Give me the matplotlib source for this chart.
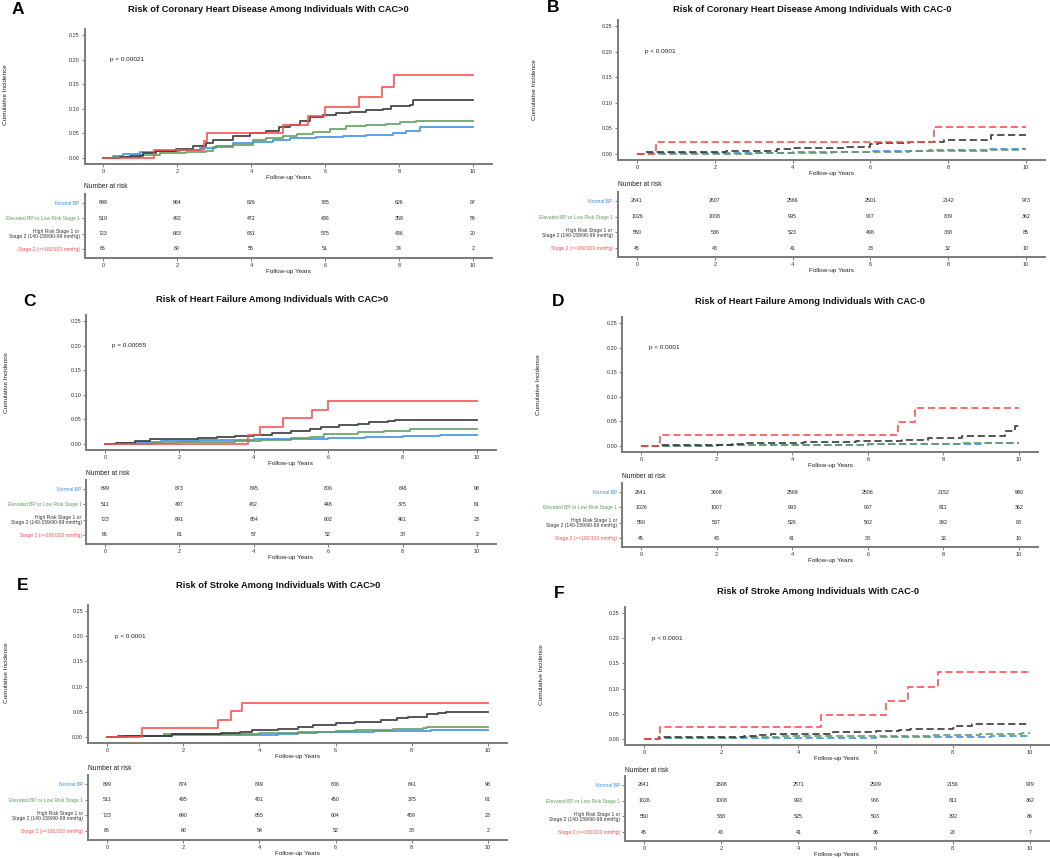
import matplotlib
matplotlib.use("Agg")
import matplotlib.pyplot as plt

plt.rcParams['font.family'] = ['Liberation Sans', 'DejaVu Sans']

W, H = 1050, 858
fig = plt.figure(figsize=(W / 100, H / 100), dpi=100)

# ---------------- data ----------------
groups = ["Normal BP", "Elevated BP or Low Risk Stage 1",
          "High Risk Stage 1 or\nStage 2 (140-159/90-99 mmHg)", "Stage 2 (>=160/100 mmHg)"]
group_colors = ["#3A8EE6", "#5E9C5E", "#333333", "#FF4D4D"]
risk_times = [0, 2, 4, 6, 8, 10]
x_ticks = [0, 2, 4, 6, 8, 10]
y_ticks = [0.00, 0.05, 0.10, 0.15, 0.20, 0.25]

titles = {
    "A": "Risk of Coronary Heart Disease Among Individuals With CAC>0",
    "B": "Risk of Coronary Heart Disease Among Individuals With CAC-0",
    "C": "Risk of Heart Failure Among Individuals With CAC>0",
    "D": "Risk of Heart Failure Among Individuals With CAC-0",
    "E": "Risk of Stroke Among Individuals With CAC>0",
    "F": "Risk of Stroke Among Individuals With CAC-0",
}
p_values = {"A": "p = 0.00021", "B": "p < 0.0001", "C": "p = 0.00055",
            "D": "p < 0.0001", "E": "p < 0.0001", "F": "p < 0.0001"}

# step points (time, cumulative incidence) for each group: Normal, Elevated, High risk, Stage 2
A_normal = [(0.27, 0.004), (0.54, 0.008), (0.99, 0.013), (1.44, 0.015), (2.07, 0.017), (2.61, 0.020),
            (3.06, 0.025), (3.51, 0.030), (4.05, 0.033), (4.59, 0.036), (5.05, 0.041), (5.77, 0.042),
            (6.49, 0.044), (7.12, 0.046), (7.84, 0.050), (8.2, 0.055), (8.56, 0.062)]
A_elev = [(0.3, 0.002), (0.99, 0.007), (1.53, 0.010), (2.25, 0.012), (2.79, 0.015), (2.97, 0.022),
          (3.51, 0.027), (4.05, 0.036), (4.41, 0.040), (4.86, 0.044), (5.23, 0.048), (5.68, 0.052),
          (6.13, 0.059), (6.58, 0.065), (7.12, 0.067), (7.66, 0.069), (8.02, 0.073), (8.47, 0.075)]
A_high = [(0.15, 0.001), (0.45, 0.002), (0.72, 0.005), (1.08, 0.010), (1.44, 0.014), (1.98, 0.019),
          (2.43, 0.024), (2.79, 0.030), (2.97, 0.037), (3.51, 0.044), (3.96, 0.051), (4.41, 0.055),
          (4.77, 0.062), (5.05, 0.068), (5.32, 0.076), (5.59, 0.084), (5.95, 0.087), (6.31, 0.091),
          (6.67, 0.094), (7.12, 0.097), (7.57, 0.099), (7.79, 0.105), (8.29, 0.108), (8.38, 0.117)]
A_stage2 = [(1.37, 0.017), (2.74, 0.034), (2.81, 0.051), (4.87, 0.067), (5.55, 0.085), (5.99, 0.103),
            (6.92, 0.124), (7.54, 0.145), (7.86, 0.168)]

B_normal = [(0.3, 0.001), (2.0, 0.002), (4.0, 0.003), (6.0, 0.005), (7.5, 0.007), (9.0, 0.009), (9.5, 0.010)]
B_elev = [(0.3, 0.0005), (3.0, 0.002), (5.0, 0.003), (7.0, 0.005), (8.0, 0.006), (9.0, 0.008), (9.8, 0.009)]
B_high = [(0.2, 0.003), (2.3, 0.006), (3.6, 0.009), (4.0, 0.011), (5.4, 0.014), (6.0, 0.020),
          (6.2, 0.022), (7.0, 0.024), (7.9, 0.028), (9.1, 0.038)]
B_stage2 = [(0.5, 0.023), (7.63, 0.052)]

C_normal = [(0.3, 0.002), (0.8, 0.004), (1.5, 0.006), (2.5, 0.009), (4.0, 0.011), (6.0, 0.012),
            (6.5, 0.013), (7.0, 0.015), (8.0, 0.016), (9.0, 0.018)]
C_elev = [(1.3, 0.003), (2.0, 0.005), (3.5, 0.007), (4.2, 0.009), (5.0, 0.012), (5.5, 0.015),
          (5.9, 0.020), (6.3, 0.021), (6.8, 0.025), (7.5, 0.027), (8.2, 0.031)]
C_high = [(0.3, 0.002), (0.8, 0.006), (1.2, 0.010), (2.5, 0.012), (3.0, 0.014), (3.5, 0.016),
          (4.0, 0.019), (4.5, 0.023), (5.0, 0.027), (5.5, 0.031), (5.8, 0.035), (6.3, 0.038),
          (6.8, 0.041), (7.1, 0.044), (7.6, 0.047), (7.8, 0.049)]
C_stage2 = [(3.85, 0.019), (4.17, 0.035), (4.79, 0.053), (5.56, 0.070), (6.0, 0.088)]

D_normal = [(0.5, 0.001), (2.0, 0.002), (4.0, 0.003), (6.0, 0.004), (8.0, 0.005), (9.0, 0.006)]
D_elev = [(0.5, 0.001), (2.0, 0.002), (4.0, 0.003), (6.0, 0.004), (7.5, 0.005), (8.5, 0.007)]
D_high = [(0.5, 0.002), (2.4, 0.004), (2.8, 0.006), (4.3, 0.008), (5.7, 0.010), (6.9, 0.013),
          (7.6, 0.017), (8.5, 0.020), (9.64, 0.031), (9.9, 0.040)]
D_stage2 = [(0.49, 0.023), (6.81, 0.049), (7.25, 0.077)]

E_normal = [(0.5, 0.002), (1.7, 0.003), (3.0, 0.004), (4.5, 0.005), (5.0, 0.007), (5.5, 0.009),
            (6.5, 0.010), (7.0, 0.011), (7.5, 0.012), (8.5, 0.013)]
E_elev = [(0.5, 0.002), (1.5, 0.005), (3.0, 0.006), (4.0, 0.007), (5.0, 0.009), (5.5, 0.010),
          (6.0, 0.012), (6.5, 0.013), (7.5, 0.015), (8.3, 0.017), (8.4, 0.020)]
E_high = [(0.3, 0.001), (1.0, 0.002), (1.7, 0.005), (2.2, 0.006), (3.0, 0.008), (3.5, 0.010),
          (3.8, 0.013), (4.5, 0.016), (5.0, 0.019), (5.4, 0.023), (6.0, 0.027), (6.5, 0.029),
          (7.2, 0.033), (7.6, 0.037), (7.9, 0.040), (8.4, 0.045), (8.7, 0.047), (8.9, 0.049)]
E_stage2 = [(0.93, 0.018), (2.92, 0.034), (3.25, 0.051), (3.54, 0.068)]

F_normal = [(0.4, 0.001), (2.5, 0.002), (6.0, 0.003), (8.0, 0.004), (9.0, 0.005)]
F_elev = [(0.4, 0.001), (2.5, 0.003), (3.5, 0.005), (5.0, 0.006), (7.5, 0.007), (8.7, 0.009),
          (9.0, 0.010), (9.8, 0.012)]
F_high = [(0.4, 0.003), (2.6, 0.005), (2.9, 0.007), (3.3, 0.009), (4.2, 0.010), (4.9, 0.013),
          (6.0, 0.015), (6.6, 0.017), (6.9, 0.019), (8.0, 0.022), (8.1, 0.026), (8.5, 0.030)]
F_stage2 = [(0.41, 0.024), (4.58, 0.047), (6.28, 0.075), (6.85, 0.103), (7.62, 0.133)]

curves = {
    "A": [A_normal, A_elev, A_high, A_stage2],
    "B": [B_normal, B_elev, B_high, B_stage2],
    "C": [C_normal, C_elev, C_high, C_stage2],
    "D": [D_normal, D_elev, D_high, D_stage2],
    "E": [E_normal, E_elev, E_high, E_stage2],
    "F": [F_normal, F_elev, F_high, F_stage2],
}

# number at risk tables (rows: Normal, Elevated, High risk, Stage 2)
A_risk = [[898, 864, 826, 785, 626, 97], [510, 492, 472, 436, 358, 56],
          [723, 683, 631, 575, 436, 20], [66, 60, 55, 51, 34, 2]]
B_risk = [[2641, 2607, 2566, 2501, 2142, 973], [1026, 1008, 995, 967, 809, 362],
          [550, 536, 523, 498, 388, 85], [45, 43, 41, 38, 32, 10]]
C_risk = [[899, 873, 845, 806, 646, 98], [511, 497, 482, 448, 375, 61],
          [723, 691, 654, 602, 461, 23], [66, 61, 57, 52, 38, 2]]
D_risk = [[2641, 2608, 2569, 2506, 2152, 980], [1026, 1007, 993, 967, 811, 362],
          [550, 537, 526, 502, 392, 88], [45, 43, 41, 38, 32, 10]]
E_risk = [[899, 874, 849, 806, 641, 98], [511, 495, 481, 450, 375, 61],
          [723, 690, 655, 604, 459, 23], [66, 60, 54, 52, 38, 2]]
F_risk = [[2641, 2608, 2571, 2509, 2156, 979], [1026, 1008, 993, 966, 811, 362],
          [550, 538, 525, 503, 392, 86], [45, 43, 41, 36, 28, 7]]
risks = {"A": A_risk, "B": B_risk, "C": C_risk, "D": D_risk, "E": E_risk, "F": F_risk}

# ---------------- layout (pixels) ----------------
layout = {
    "A": dict(x0=103, x10=473, y0=158, y25=35, r1=203, r4=249, nar=187, title=(268, 9), letter=(18, 9), ylab=(3, 95)),
    "B": dict(x0=637, x10=1026, y0=154, y25=26, r1=201, r4=248, nar=185, title=(812, 9), letter=(553, 7), ylab=(532, 90)),
    "C": dict(x0=105, x10=477, y0=444, y25=321, r1=489, r4=535, nar=473, title=(272, 299), letter=(30, 301), ylab=(4, 383)),
    "D": dict(x0=641, x10=1019, y0=446, y25=323, r1=492, r4=538, nar=476, title=(810, 301), letter=(558, 302), ylab=(536, 385)),
    "E": dict(x0=107, x10=488, y0=737, y25=611, r1=784, r4=831, nar=768, title=(278, 585), letter=(23, 586), ylab=(4, 673)),
    "F": dict(x0=644, x10=1030, y0=739, y25=613, r1=785, r4=832, nar=770, title=(818, 592), letter=(559, 593), ylab=(539, 675)),
}
dashed = {"A": False, "B": True, "C": False, "D": True, "E": False, "F": True}

SPINE = "#7a7a7a"
TXT = "#333333"


def fx(px):
    return px / W


def fy(py):
    return 1 - py / H


def style_axes(ax):
    for s in ["top", "right"]:
        ax.spines[s].set_visible(False)
    for s in ["left", "bottom"]:
        ax.spines[s].set_color(SPINE)
        ax.spines[s].set_linewidth(1.4)
    ax.tick_params(length=2, width=0.7, color=SPINE, labelsize=4.0, labelcolor=TXT, pad=1.5)


for key, L in layout.items():
    ux = (L["x10"] - L["x0"]) / 10.0
    left = L["x0"] - 0.5 * ux
    right = L["x10"] + 0.5 * ux
    uy = (L["y0"] - L["y25"])
    bottom = L["y0"] + 0.05 * uy
    top = L["y25"] - 0.05 * uy
    ax = fig.add_axes([fx(left), fy(bottom), (right - left) / W, (bottom - top) / H])
    style_axes(ax)
    ax.set_xlim(-0.5, 10.5)
    ax.set_ylim(-0.0125, 0.2625)
    ax.set_xticks(x_ticks)
    ax.set_yticks(y_ticks)
    ax.set_yticklabels([f"{v:.2f}" for v in y_ticks])
    ls = (0, (4, 2)) if dashed[key] else "-"
    for pts, col in zip(curves[key], group_colors):
        t = [0] + [p[0] for p in pts] + [10]
        y = [0] + [p[1] for p in pts] + [pts[-1][1]]
        ax.step(t, y, where="post", color=col, lw=1.3, ls=ls, alpha=0.9)
    ax.text(0.2, 0.2, p_values[key], fontsize=4.6, color="#222222", ha="left", va="center")
    fig.text(fx((left + right) / 2), fy(bottom + 13), "Follow-up Years", fontsize=4.6,
             color="#222222", ha="center", va="center")
    fig.text(fx(L["ylab"][0]), fy(L["ylab"][1]), "Cumulative Incidence", fontsize=4.6,
             color="#222222", rotation=90, ha="left", va="center")
    fig.text(fx(L["title"][0]), fy(L["title"][1]), titles[key], fontsize=6.7, fontweight="bold",
             color="#111111", ha="center", va="center")
    fig.text(fx(L["letter"][0]), fy(L["letter"][1]), key, fontsize=12.5, fontweight="bold",
             color="black", ha="center", va="center")

    # risk table
    s = (L["r4"] - L["r1"]) / 3.0
    ttop = L["r1"] - 0.6 * s
    tbot = L["r4"] + 0.6 * s
    tax = fig.add_axes([fx(left), fy(tbot), (right - left) / W, (tbot - ttop) / H])
    style_axes(tax)
    tax.set_xlim(-0.5, 10.5)
    tax.set_ylim(0.4, 4.6)
    tax.set_xticks(x_ticks)
    rows_pos = [4, 3, 2, 1]
    tax.set_yticks(rows_pos)
    tax.set_yticklabels(groups)
    for lab, col in zip(tax.get_yticklabels(), group_colors):
        lab.set_color(col)
        lab.set_fontsize(3.6)
        lab.set_linespacing(1.0)
    for row, rp in zip(risks[key], rows_pos):
        for tt, n in zip(risk_times, row):
            tax.text(tt, rp, str(n), fontsize=3.8, color="#222222", ha="center", va="center")
    fig.text(fx(left), fy(L["nar"]), "Number at risk", fontsize=4.8, color="#222222",
             ha="left", va="center")
    fig.text(fx((left + right) / 2), fy(tbot + 13), "Follow-up Years", fontsize=4.6,
             color="#222222", ha="center", va="center")

fig.savefig("out.png", dpi=100, facecolor="white")
